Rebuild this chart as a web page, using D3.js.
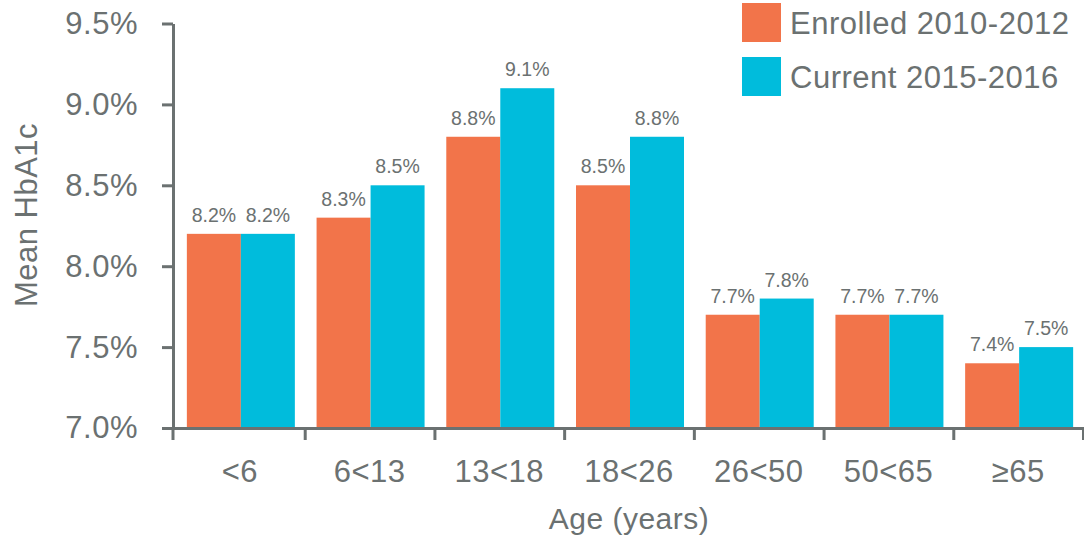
<!DOCTYPE html>
<html>
<head>
<meta charset="utf-8">
<script src="https://cdn.jsdelivr.net/npm/d3@7"></script>
<style>
  html, body { margin: 0; padding: 0; background: #ffffff; }
  svg { display: block; font-family: "Liberation Sans", Arial, Helvetica, sans-serif; }
</style>
</head>
<body>
<svg id="chart" width="1084" height="543"></svg>
<script>
// Mean HbA1c by age group, two study periods
const ageGroups = ["<6", "6<13", "13<18", "18<26", "26<50", "50<65", "\u226565"];
const seriesNames = ["Enrolled 2010-2012", "Current 2015-2016"];
const enrolled = [8.2, 8.3, 8.8, 8.5, 7.7, 7.7, 7.4];
const current = [8.2, 8.5, 9.1, 8.8, 7.8, 7.7, 7.5];
const yTicks = [7.0, 7.5, 8.0, 8.5, 9.0, 9.5];

const colors = ["#f2744a", "#00bcdc"];
const textGray = "#6b7171";
const axisGray = "#6b7171";
const bigFont = 31;
const bigSpacing = 0.5;

const svg = d3.select("#chart");

const margin = { left: 173, top: 23.5 };
const plotBottom = 428;
const xStart = 175, xEnd = 1083;

const rows = ageGroups.map((g, i) => ({ group: g, values: [enrolled[i], current[i]] }));

const x = d3.scaleBand().domain(ageGroups).range([xStart, xEnd]).padding(0);
const groupWidth = 108;
const xSeries = d3.scaleBand()
  .domain(d3.range(seriesNames.length))
  .range([(x.bandwidth() - groupWidth) / 2 + 1, (x.bandwidth() + groupWidth) / 2 + 1])
  .padding(0);

const y = d3.scaleLinear().domain([7.0, 9.5]).range([plotBottom, margin.top]);

// Bars
const groups = svg.append("g").selectAll("g")
  .data(rows)
  .join("g")
  .attr("transform", d => `translate(${x(d.group)},0)`);

groups.selectAll("rect")
  .data(d => d.values.map((v, s) => ({ v, s })))
  .join("rect")
  .attr("x", d => xSeries(d.s))
  .attr("width", xSeries.bandwidth())
  .attr("y", d => y(d.v))
  .attr("height", d => plotBottom - y(d.v))
  .attr("fill", d => colors[d.s]);

// Value labels above bars
groups.selectAll("text.val")
  .data(d => d.values.map((v, s) => ({ v, s })))
  .join("text")
  .attr("class", "val")
  .attr("x", d => xSeries(d.s) + xSeries.bandwidth() / 2)
  .attr("y", d => y(d.v) - 12)
  .attr("text-anchor", "middle")
  .attr("font-size", 19.5)
  .attr("fill", textGray)
  .text(d => d3.format(".1f")(d.v) + "%");

// Y axis
const yAxis = svg.append("g")
  .attr("transform", `translate(${margin.left},0)`)
  .call(d3.axisLeft(y)
    .tickValues(yTicks)
    .tickFormat(d => d3.format(".1f")(d) + "%")
    .tickSize(11)
    .tickSizeOuter(0)
    .tickPadding(24));
yAxis.select(".domain").attr("stroke", axisGray).attr("stroke-width", 3);
yAxis.selectAll(".tick line").attr("stroke", axisGray).attr("stroke-width", 3);
yAxis.selectAll(".tick text")
  .attr("fill", textGray)
  .attr("font-size", bigFont)
  .attr("letter-spacing", bigSpacing)
  .attr("font-family", null);

// X axis: boundary ticks between age groups
const xEdges = d3.scaleLinear().domain([0, ageGroups.length]).range([xStart, xEnd]);
const xAxisTicks = svg.append("g")
  .attr("transform", `translate(0,${plotBottom})`)
  .call(d3.axisBottom(xEdges)
    .tickValues(d3.range(1, ageGroups.length + 1))
    .tickFormat("")
    .tickSize(12)
    .tickSizeOuter(0));
xAxisTicks.select(".domain")
  .attr("d", `M${margin.left - 1.5},0.5H${xEnd + 1}`)
  .attr("stroke", axisGray).attr("stroke-width", 3);
xAxisTicks.selectAll(".tick line").attr("stroke", axisGray).attr("stroke-width", 3);

// Left end of the x axis continues the y axis line below the baseline
svg.append("line")
  .attr("x1", margin.left).attr("x2", margin.left)
  .attr("y1", plotBottom).attr("y2", plotBottom + 12)
  .attr("stroke", axisGray).attr("stroke-width", 3);

// X axis: category labels
const xAxisLabels = svg.append("g")
  .attr("transform", `translate(0,${plotBottom})`)
  .call(d3.axisBottom(x).tickSize(0).tickPadding(32));
xAxisLabels.select(".domain").remove();
xAxisLabels.selectAll(".tick text")
  .attr("fill", textGray)
  .attr("font-size", bigFont)
  .attr("letter-spacing", bigSpacing)
  .attr("font-family", null);

// Axis titles
svg.append("text")
  .attr("x", (xStart + xEnd) / 2)
  .attr("y", 529)
  .attr("text-anchor", "middle")
  .attr("font-size", 30)
  .attr("letter-spacing", bigSpacing)
  .attr("fill", textGray)
  .text("Age (years)");

svg.append("text")
  .attr("transform", "translate(37,215) rotate(-90)")
  .attr("text-anchor", "middle")
  .attr("font-size", bigFont)
  .attr("letter-spacing", bigSpacing)
  .attr("fill", textGray)
  .text("Mean HbA1c");

// Legend
const legend = svg.append("g").attr("transform", "translate(742,3)");
const legendItems = legend.selectAll("g")
  .data(seriesNames)
  .join("g")
  .attr("transform", (d, i) => `translate(0,${i * 54})`);
legendItems.append("rect")
  .attr("width", 39).attr("height", 39)
  .attr("fill", (d, i) => colors[i]);
legendItems.append("text")
  .attr("x", 48)
  .attr("y", 30.5)
  .attr("font-size", bigFont)
  .attr("letter-spacing", bigSpacing)
  .attr("fill", textGray)
  .text(d => d);
</script>
</body>
</html>
